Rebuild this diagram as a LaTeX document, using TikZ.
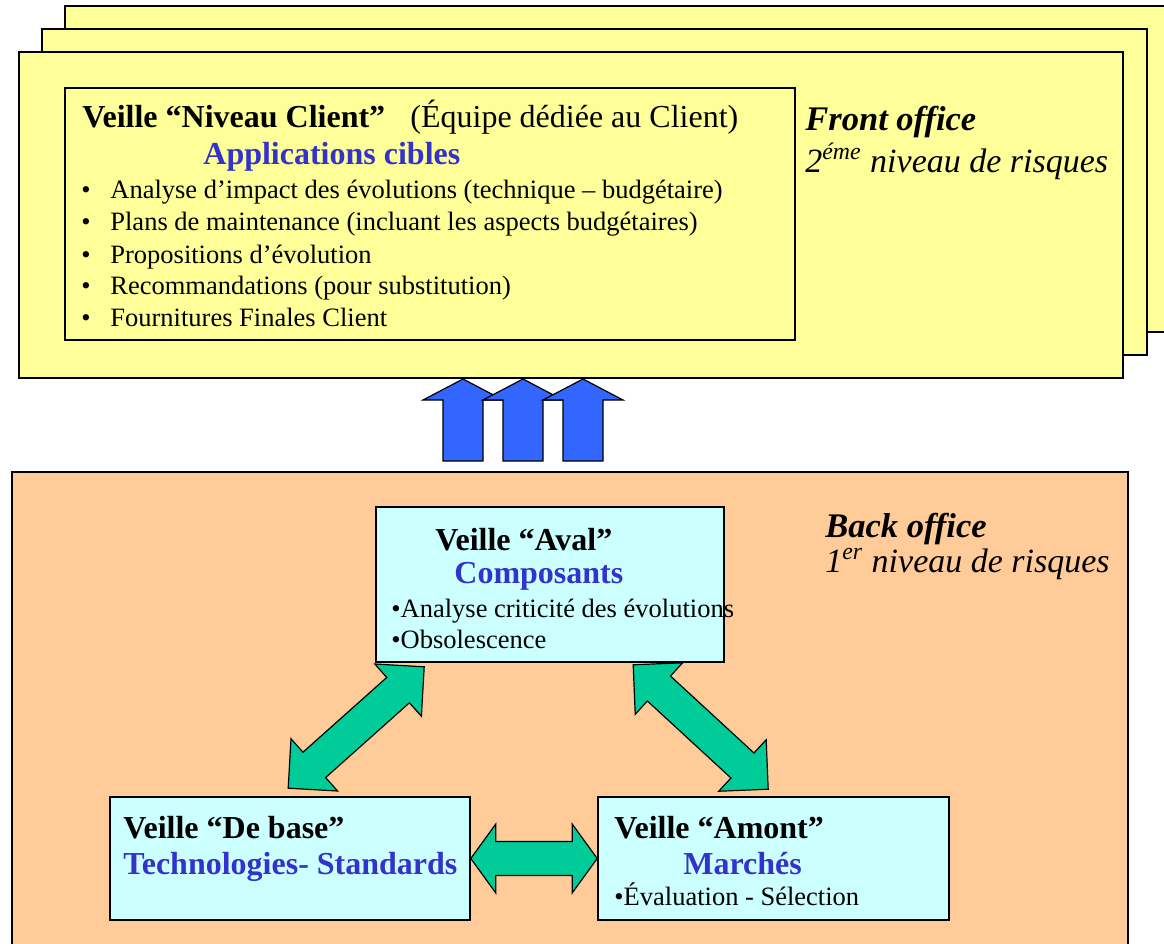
\documentclass[tikz,border=0pt]{standalone}
\usepackage{fontspec}
\setmainfont{Liberation Serif}
\usetikzlibrary{calc,fit}

\newcommand\titlesize{\fontsize{16}{19}\selectfont}
\newcommand\itemsize{\fontsize{13.25}{16}\selectfont}
\newcommand\officesize{\fontsize{17.25}{20}\selectfont}
\newcommand\levelsize{\fontsize{17}{20}\selectfont}

% double block arrow: start, end, head length, head half width, shaft half width
\newcommand\dblarrow[5]{%
    \path (#1) coordinate (da) (#2) coordinate (db);
    \coordinate (da1) at ($(da)!#3!(db)$);
    \coordinate (db1) at ($(db)!#3!(da)$);
    \draw[greenarr] (da) -- ($(da1)!#4!-90:(db)$) -- ($(da1)!#5!-90:(db)$)
        -- ($(db1)!#5!90:(da)$) -- ($(db1)!#4!90:(da)$) -- (db)
        -- ($(db1)!#4!-90:(da)$) -- ($(db1)!#5!-90:(da)$)
        -- ($(da1)!#5!90:(db)$) -- ($(da1)!#4!90:(db)$) -- cycle;
}

\begin{document}
\begin{tikzpicture}[x=0.5pt, y=-0.5pt,
    box/.style={draw=black, line width=0.8pt, inner sep=0pt},
    txt/.style={anchor=base west, inner sep=0pt},
    greenarr/.style={draw=black, line width=0.6pt, fill=arrowgreen},
    bluearr/.style={draw=black, line width=0.6pt, fill=arrowblue}]
    % Define colors
    \definecolor{frontyellow}{RGB}{255,255,153}
    \definecolor{backorange}{RGB}{255,204,153}
    \definecolor{boxcyan}{RGB}{204,255,255}
    \definecolor{textblue}{RGB}{51,51,204}
    \definecolor{arrowgreen}{RGB}{0,204,153}
    \definecolor{arrowblue}{RGB}{51,102,255}

    \useasboundingbox (0,0) rectangle (1164,944);

    % Front office: stacked sheets
    \node[box, fill=frontyellow, fit={(65,6) (1175,332)}] (sheetc) {};
    \node[box, fill=frontyellow, fit={(42,29) (1147,355)}] (sheetb) {};
    \node[box, fill=frontyellow, fit={(19,52) (1123,378)}] (front) {};
    \node[box, fill=frontyellow, fit={(65,88) (795,340)}] (client) {};

    \node[txt] (clienttitle) at (82,127) {\titlesize\bfseries Veille “Niveau Client”};
    \node[txt] (clientteam) at (410,127) {\titlesize (Équipe dédiée au Client)};
    \node[txt, text=textblue] (clientapps) at (203,164) {\titlesize\bfseries Applications cibles};
    \foreach \y/\t [count=\i] in {198/{Analyse d’impact des évolutions (technique – budgétaire)},
        230/{Plans de maintenance (incluant les aspects budgétaires)},
        263/{Propositions d’évolution},
        294/{Recommandations (pour substitution)},
        326/{Fournitures Finales Client}}
        \node[txt] (clientitem\i) at (81,\y) {\itemsize\makebox[14.5pt][l]{•}\t};

    \node[txt] (fronttitle) at (805,130) {\officesize\bfseries\itshape Front office};
    \node[txt] (frontlevel) at (805,172) {\levelsize\itshape 2\textsuperscript{éme} niveau de risques};

    % Back office
    \node[box, fill=backorange, fit={(12,472) (1128,960)}] (back) {};
    \node[txt] (backtitle) at (825,537) {\officesize\bfseries\itshape Back office};
    \node[txt] (backlevel) at (825,572) {\levelsize\itshape 1\textsuperscript{er} niveau de risques};

    % Up arrows
    \foreach \cx in {463,523,583}
        \draw[bluearr] (\cx-20,461) -- (\cx-20,400) -- (\cx-40,400) -- (\cx,379)
            -- (\cx+40,400) -- (\cx+20,400) -- (\cx+20,461) -- cycle;

    % Veille boxes
    \node[box, fill=boxcyan, fit={(376,507) (724,662)}] (aval) {};
    \node[box, fill=boxcyan, fit={(110,797) (470,920)}] (debase) {};
    \node[box, fill=boxcyan, fit={(598,797) (949,920)}] (amont) {};

    \node[txt] (avaltitle) at (435,550) {\titlesize\bfseries Veille “Aval”};
    \node[txt, text=textblue] (avalsub) at (454,583) {\titlesize\bfseries Composants};
    \node[txt] (avalitema) at (391,617) {\itemsize •Analyse criticité des évolutions};
    \node[txt] (avalitemb) at (391,648) {\itemsize •Obsolescence};

    \node[txt] (debasetitle) at (123,838) {\titlesize\bfseries Veille “De base”};
    \node[txt, text=textblue] (debasesub) at (123,874) {\titlesize\bfseries Technologies- Standards};

    \node[txt] (amonttitle) at (614,838) {\titlesize\bfseries Veille “Amont”};
    \node[txt, text=textblue] (amontsub) at (683,874) {\titlesize\bfseries Marchés};
    \node[txt] (amontitem) at (614,905) {\itemsize •Évaluation - Sélection};

    % Exchange arrows
    \dblarrow{$(debase.north west)+(179,-8)$}{$(aval.south west)+(49,4)$}{17.5pt}{17.5pt}{8.5pt}
    \dblarrow{$(aval.south west)+(258,2)$}{$(amont.north west)+(171,-7)$}{17.5pt}{17.5pt}{8.5pt}
    \dblarrow{debase.east}{amont.west}{12.5pt}{17.25pt}{8.5pt}
\end{tikzpicture}
\end{document}
